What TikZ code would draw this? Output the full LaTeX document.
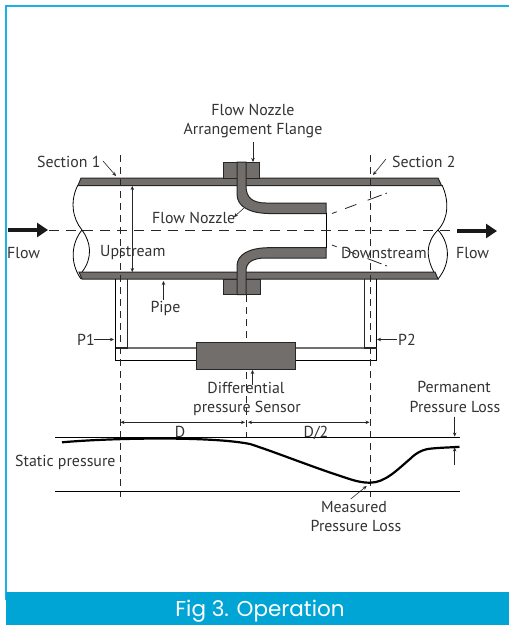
\documentclass[tikz,border=0pt]{standalone}
\usepackage{fontspec}
\setmainfont{PT Sans}
\newfontfamily\capfont{Poppins}
\usetikzlibrary{arrows.meta}
\definecolor{barblue}{HTML}{00A5D6}
\definecolor{frameblue}{HTML}{1AB2E4}
\definecolor{steel}{HTML}{726E6C}
\definecolor{ink}{HTML}{262626}
\definecolor{txt}{HTML}{333333}
\tikzset{
  metal/.style={fill=steel,draw=ink,line width=1pt,line join=miter},
  wire/.style={draw=black,line width=0.9pt},
  cut/.style={draw=black,line width=0.8pt},
  secline/.style={draw=ink,line width=0.9pt,dash pattern=on 7pt off 5pt},
  midline/.style={draw=ink,line width=0.9pt,dash pattern=on 10pt off 7pt},
  spread/.style={draw=ink,line width=0.8pt,dash pattern=on 5pt off 9pt on 12pt off 12pt on 15pt off 4pt},
  lead/.style={draw=ink,line width=0.6pt,-{Stealth[length=4pt,width=3.5pt]}},
  dimen/.style={draw=ink,line width=0.6pt,{Stealth[length=4pt,width=3.5pt]}-{Stealth[length=4pt,width=3.5pt]}},
  flowarrow/.style={draw=black!90,line width=4.5pt,-{Triangle[length=11pt,width=14pt]}},
  lab/.style={text=txt,font=\fontsize{15.9}{18}\selectfont,inner sep=0pt,anchor=base},
  labl/.style={lab,anchor=base west},
}
\begin{document}
\begin{tikzpicture}[x=1pt,y=-1pt]
\useasboundingbox (0,0) rectangle (509,625);
\fill[white] (0,0) rectangle (509,625);
% frame
\draw[frameblue,line width=1.6pt] (6,600) -- (6,5.8) -- (509,5.8);
\fill[barblue] (5.5,592) rectangle (509,625);
\node[text=white,font=\capfont\fontsize{21.5}{24}\selectfont,inner sep=0pt,anchor=base] (cap) at (260,616) {Fig 3. Operation};
% pipe break curves
\draw[cut] (78,185) .. controls (70,200) and (72,218) .. (82,230) .. controls (91,242) and (93,258) .. (82,272);
\draw[cut] (82,230) .. controls (72,242) and (69,262) .. (81,279);
\draw[cut] (442,185) .. controls (449,200) and (449,218) .. (438,230) .. controls (426,242) and (424,258) .. (438,279);
\draw[cut] (438,230) .. controls (449,242) and (452,262) .. (438,279);
% pipe walls
\path[metal] (81,178) -- (438,178) -- (441.5,185.5) -- (78,185.5) -- cycle;
\path[metal] (79,272) -- (435,272) -- (438,279) -- (82,279) -- cycle;
% flanges
\path[metal] (223,162) rectangle (259,178);
\path[metal] (223,279) rectangle (260,294.5);
% nozzle
\path[metal] (237,162) -- (246,162) -- (246,186) .. controls (246,198) and (253,203) .. (266,203) -- (326,203) -- (326,213.5) -- (268,213.5) .. controls (250,213) and (237,207) .. (237,194) -- cycle;
\path[metal] (237,294.5) -- (246,294.5) -- (246,271) .. controls (246,262) and (253,258) .. (266,258) -- (326,258) -- (326,247.7) -- (268,247.7) .. controls (250,248) and (237,254) .. (237,266) -- cycle;
\draw[wire] (326,213) -- (326,248);
% impulse tubes
\draw[draw=ink,line width=0.9pt] (127.5,279) -- (127.5,348) -- (116,348);
\draw[draw=steel,line width=1.2pt] (127.5,348) -- (196,348);
\draw[wire] (115.5,279) -- (115.5,360) -- (196,360);
\draw[draw=ink,line width=1.4pt] (115.5,348) -- (127.5,348);
\draw[draw=ink,line width=0.9pt] (364,279) -- (364,348);
\draw[draw=steel,line width=1.2pt] (295.5,348) -- (364,348);
\draw[wire] (376,279) -- (376,360) -- (295.5,360);
\draw[draw=ink,line width=1.4pt] (364,348) -- (376.5,348);
\path[metal] (196,342) rectangle (295.5,369);
% centre lines
\draw[midline] (49,230.3) -- (455,230.3);
\draw[secline] (120.3,155) -- (120.3,497);
\draw[secline] (370,155) -- (370,497);
\draw[secline] (246,295) -- (246,342);
\draw[secline] (246,372) -- (246,437);
% spreading flow lines
\draw[spread] (332,213.5) -- (387,193);
\draw[spread] (332,245) -- (387,266);
% flow arrows
\draw[flowarrow] (8,230) -- (48,230);
\draw[flowarrow] (457,231) -- (497,231);
% leaders
\draw[lead] (103,161) -- (116,176);
\draw[lead] (386,159) -- (373,175);
\draw[lead] (253,142) -- (253,162);
\draw[dimen] (132.3,186) -- (132.3,272);
\draw[lead] (244,208) -- (234,217);
\draw[lead] (163.5,300) -- (163.5,281);
\draw[lead] (93.5,339.5) -- (114,339.5);
\draw[lead] (397,339.5) -- (377,339.5);
\draw[lead] (252.5,385) -- (252.5,370);
\draw[dimen] (120.5,422.3) -- (245,422.3);
\draw[dimen] (248,422.3) -- (369.5,422.3);
\draw[lead] (454.7,416.5) -- (454.7,436.5);
\draw[lead] (454.7,465) -- (454.7,447.5);
\draw[lead] (350.7,499) -- (366.7,486);
% pressure chart
\draw[wire] (55,437.7) -- (460,437.7);
\draw[wire] (55,491.7) -- (460,491.7);
\draw[draw=black,line width=2.2pt] (62,442.3) .. controls (110,438) and (210,436) .. (250,444)
  .. controls (275,452) and (315,468) .. (345,477.5)
  .. controls (355,481) and (362,482.7) .. (370,482.7)
  .. controls (385,482.7) and (397,470) .. (410,459)
  .. controls (417,452) and (424,449) .. (432,448.5)
  .. controls (442,447.5) and (450,447.5) .. (459.5,446.8);
% labels
\node[lab] (t1) at (253,115) {Flow Nozzle};
\node[lab] (t2) at (253,134) {Arrangement Flange};
\node[labl] (s1) at (37,167) {Section 1};
\node[labl] (s2) at (392,167) {Section 2};
\node[labl] (fn) at (152,223) {Flow Nozzle};
\node[labl] (fl) at (7,258) {Flow};
\node[labl] (fr) at (456,258) {Flow};
\node[labl] (up) at (100,256) {Upstream};
\node[labl] (dn) at (341,258) {Downstream};
\node[lab] (pp) at (165.5,312) {Pipe};
\node[labl] (p1) at (77,345) {P1};
\node[labl] (p2) at (398,345) {P2};
\node[lab] (d1) at (246,393) {Differential};
\node[lab] (d2) at (247,412) {pressure Sensor};
\node[lab] (dd) at (180,437) {D};
\node[lab] (dh) at (316,437) {D/2};
\node[lab] (pl1) at (454,392) {Permanent};
\node[lab] (pl2) at (455,412) {Pressure Loss};
\node[labl] (st) at (15,466) {Static pressure};
\node[lab] (m1) at (354,512) {Measured};
\node[lab] (m2) at (356,531) {Pressure Loss};
\end{tikzpicture}
\end{document}
